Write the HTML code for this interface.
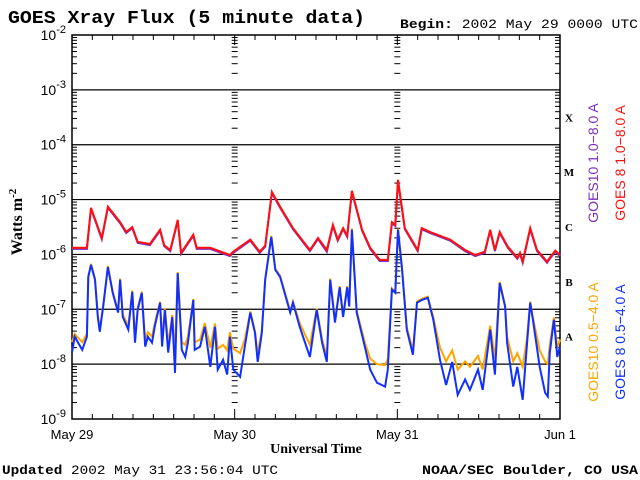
<!DOCTYPE html>
<html><head><meta charset="utf-8"><style>
body{margin:0;background:#fff;width:640px;height:480px;overflow:hidden}
svg{display:block}
</style></head><body>
<svg id="chart" width="640" height="480" viewBox="0 0 640 480" xmlns="http://www.w3.org/2000/svg">
<rect width="640" height="480" fill="#fff"/>
<text x="8" y="23" font-family="Liberation Mono, monospace" font-weight="bold" font-size="18" textLength="357" lengthAdjust="spacingAndGlyphs">GOES Xray Flux (5 minute data)</text>
<text x="400" y="28" font-family="Liberation Mono, monospace" font-size="13" textLength="238" lengthAdjust="spacingAndGlyphs"><tspan font-weight="bold">Begin:</tspan>  2002 May 29 0000 UTC</text>
<text transform="translate(22,222) rotate(-90)" text-anchor="middle" font-family="Liberation Serif, serif" font-weight="bold" font-size="16">Watts m<tspan dy="-6" font-size="11">-2</tspan></text>
<text x="316" y="453" text-anchor="middle" font-family="Liberation Serif, serif" font-weight="bold" font-size="14">Universal Time</text>
<text x="2" y="474" font-family="Liberation Mono, monospace" font-size="13" textLength="276" lengthAdjust="spacingAndGlyphs"><tspan font-weight="bold">Updated</tspan> 2002 May 31 23:56:04 UTC</text>
<text x="422" y="474" font-family="Liberation Mono, monospace" font-weight="bold" font-size="13" textLength="216" lengthAdjust="spacingAndGlyphs">NOAA/SEC Boulder, CO USA</text>
<g id="axes"></g>
<g id="series"></g>
<g id="labels"></g>
</svg>
<script>
const hours = [0,0.4,1.5,2.2,2.4,2.8,3.4,3.8,4.1,4.6,5.3,6.0,6.8,7.1,7.5,8.3,8.9,9.3,9.7,10.3,10.8,11.2,11.8,12.2,13.0,13.3,13.7,14.2,14.8,15.2,15.6,16.2,16.7,17.1,17.9,18.1,18.9,19.6,20.4,21.1,21.5,22.3,22.9,23.3,23.8,24.8,25.5,26.3,27.0,27.4,28.0,28.5,29.4,30.0,30.7,32.2,32.6,33.6,35.1,36.1,36.9,37.6,38.1,38.8,39.5,40.0,40.6,40.9,41.3,42.0,43.2,44.0,45.0,46.2,46.6,47.2,47.7,48.1,48.7,49.4,50.3,50.9,51.6,52.5,53.3,54.3,55.2,56.1,56.9,58.0,58.7,59.9,60.6,61.7,62.4,63.1,63.9,64.2,65.1,65.7,66.5,67.1,67.6,68.0,69.0,69.8,70.2,70.5,71.1,71.6,72];
const goes8Short = [-7.79,-7.50,-7.74,-7.50,-6.41,-6.19,-6.46,-7.14,-7.41,-6.95,-6.23,-6.70,-7.06,-6.46,-7.14,-7.37,-6.68,-7.61,-7.01,-6.70,-7.68,-7.50,-7.61,-7.32,-6.88,-7.68,-7.01,-7.79,-7.14,-8.16,-6.34,-7.74,-7.87,-7.61,-6.83,-7.74,-7.68,-7.32,-8.05,-7.32,-8.10,-7.92,-8.19,-7.50,-8.10,-8.23,-7.68,-7.06,-7.43,-7.96,-7.43,-6.46,-5.68,-6.28,-6.41,-7.06,-6.88,-7.32,-7.87,-7.01,-7.61,-7.96,-6.46,-7.24,-6.60,-7.14,-6.60,-6.95,-5.55,-7.06,-7.68,-8.10,-8.34,-8.41,-8.10,-6.64,-6.70,-5.55,-6.28,-7.37,-7.83,-6.88,-6.83,-6.79,-7.19,-7.92,-8.38,-7.96,-8.56,-8.28,-8.47,-8.10,-8.47,-7.37,-8.19,-6.52,-6.95,-7.61,-8.41,-8.05,-8.65,-7.68,-6.88,-7.19,-8.05,-8.52,-8.59,-7.79,-7.19,-7.87,-7.68];
const goes10Short = [-7.60,-7.45,-7.60,-7.45,-6.40,-6.17,-6.44,-7.10,-7.35,-6.93,-6.21,-6.68,-7.03,-6.44,-7.10,-7.30,-6.66,-7.50,-6.98,-6.68,-7.55,-7.42,-7.50,-7.26,-6.86,-7.55,-6.98,-7.62,-7.10,-7.80,-6.32,-7.60,-7.65,-7.50,-6.81,-7.60,-7.55,-7.25,-7.70,-7.26,-7.72,-7.65,-7.75,-7.42,-7.72,-7.80,-7.55,-7.04,-7.40,-7.80,-7.40,-6.44,-5.66,-6.26,-6.39,-7.03,-6.86,-7.25,-7.65,-6.99,-7.55,-7.85,-6.44,-7.20,-6.58,-7.10,-6.58,-6.93,-5.53,-7.03,-7.60,-7.90,-8.00,-8.02,-7.90,-6.62,-6.68,-5.53,-6.26,-7.33,-7.75,-6.86,-6.81,-6.77,-7.15,-7.70,-7.95,-7.75,-8.10,-7.95,-8.05,-7.85,-8.10,-7.30,-7.90,-6.50,-6.93,-7.50,-7.95,-7.80,-8.05,-7.55,-6.86,-7.15,-7.75,-7.95,-8.00,-7.65,-7.15,-7.70,-7.55];
const longHours = [0,2.2,2.8,4.4,5.3,7.1,8.0,8.9,9.7,11.5,13.0,13.6,14.5,15.6,16.1,17.9,18.4,20.4,23.3,23.8,26.3,27.7,28.5,29.5,30.7,32.6,35.1,36.3,37.6,38.5,39.2,40.0,40.6,41.3,42.8,44.0,45.4,46.6,47.2,47.7,48.1,49.1,51.0,51.6,52.8,55.8,58.0,59.5,60.9,61.7,62.4,63.1,64.3,65.7,66.1,66.5,67.6,68.6,70.1,70.5,71.3,72];
const goes8Long = [-5.88,-5.88,-5.15,-5.70,-5.13,-5.41,-5.59,-5.50,-5.77,-5.81,-5.55,-5.83,-5.92,-5.37,-5.97,-5.64,-5.88,-5.88,-6.01,-5.95,-5.73,-5.95,-5.84,-4.86,-5.13,-5.52,-5.92,-5.70,-5.92,-5.46,-5.73,-5.52,-5.66,-4.84,-5.55,-5.88,-6.10,-6.10,-5.41,-5.46,-4.64,-5.52,-5.92,-5.52,-5.59,-5.73,-5.92,-6.01,-5.95,-5.55,-5.92,-5.59,-5.86,-6.06,-5.97,-6.13,-5.52,-5.92,-6.13,-6.06,-5.93,-6.01];
const goes10Long = [-5.90,-5.90,-5.17,-5.72,-5.15,-5.43,-5.61,-5.52,-5.79,-5.83,-5.57,-5.85,-5.94,-5.39,-5.99,-5.66,-5.90,-5.90,-6.03,-5.97,-5.75,-5.97,-5.86,-4.88,-5.15,-5.54,-5.94,-5.72,-5.95,-5.48,-5.75,-5.54,-5.68,-4.86,-5.57,-5.90,-6.12,-6.12,-5.43,-5.48,-4.66,-5.54,-5.94,-5.54,-5.61,-5.75,-5.94,-6.03,-5.97,-5.57,-5.94,-5.61,-5.88,-6.08,-5.99,-6.15,-5.54,-5.94,-6.15,-6.08,-5.95,-6.03];
const decadeExps = [-2,-3,-4,-5,-6,-7,-8,-9];
const dayLabels = ["May 29","May 30","May 31","Jun 1"];
const classLetters = ["X","M","C","B","A"];

const NS = "http://www.w3.org/2000/svg";
const X0 = 72, X1 = 560, Y0 = 35, Y1 = 419;
const xs = h => X0 + (h / 72) * (X1 - X0);
const ys = l => Y0 + (-2 - l) / 7 * (Y1 - Y0);
function mk(tag, attrs, parent) { const e = document.createElementNS(NS, tag); for (const k in attrs) e.setAttribute(k, attrs[k]); parent.appendChild(e); return e; }
const axes = document.getElementById('axes'), series = document.getElementById('series'), labels = document.getElementById('labels');

const frame = mk('rect', {x: X0, y: Y0, width: X1 - X0, height: Y1 - Y0, fill: 'none', stroke: '#000', 'stroke-width': 1.5}, axes);



decadeExps.forEach((e, i) => {
  const y = ys(e);
  if (e < -2 && e > -9) {
    const g = mk('line', {x1: X0, x2: X1, y1: y, y2: y, stroke: '#000', 'stroke-width': 1.2}, axes);
    
    
  }
  const t = mk('text', {x: 66, y: y + 5, 'text-anchor': 'end', 'font-family': 'Liberation Sans, sans-serif', 'font-size': 14}, labels);
  
  
  t.innerHTML = '10<tspan dy="-7" font-size="11">' + e + '</tspan>';
  if (e > -9) {
    for (let m = 2; m <= 9; m++) {
      const yy = ys(e - 1 + Math.log10(m));
      [[X0, X0 + 5], [X1 - 5, X1], [xs(24) - 3, xs(24) + 3], [xs(48) - 3, xs(48) + 3]].forEach(p => {
        mk('line', {x1: p[0], x2: p[1], y1: yy, y2: yy, stroke: '#000', 'stroke-width': 1}, axes);
      });
    }
  }
});
for (let h = 0; h <= 72; h += 3) {
  const x = xs(h), len = h % 24 === 0 ? 10 : 5;
  mk('line', {x1: x, x2: x, y1: Y0, y2: Y0 + len, stroke: '#000', 'stroke-width': 1}, axes);
  mk('line', {x1: x, x2: x, y1: Y1, y2: Y1 - len, stroke: '#000', 'stroke-width': 1}, axes);
}
dayLabels.forEach((d, i) => {
  const t = mk('text', {x: xs(i * 24), y: 439, 'text-anchor': 'middle', 'font-family': 'Liberation Sans, sans-serif', 'font-size': 13}, labels);
  
  
  t.textContent = d;
});
classLetters.forEach((c, i) => {
  const t = mk('text', {x: 569, y: ys(-3.5 - i) + 4, 'text-anchor': 'middle', 'font-family': 'Liberation Serif, serif', 'font-weight': 'bold', 'font-size': 11}, labels);
  
  
  t.textContent = c;
});
function line(hs, vals, color, name) {
  const d = hs.map((h, i) => (i ? 'L' : 'M') + xs(h).toFixed(1) + ',' + ys(vals[i]).toFixed(1)).join('');
  const p = mk('path', {d: d, fill: 'none', stroke: color, 'stroke-width': 2, 'stroke-linejoin': 'miter'}, series);
  
  
}
line(longHours, goes10Long, '#7b2fbf', 'goes10-long-line');
line(longHours, goes8Long, '#ff1010', 'goes8-long-line');
line(hours, goes10Short, '#ffa500', 'goes10-short-line');
line(hours, goes8Short, '#1030ff', 'goes8-short-line');

[[593, 163, '#7b2fbf', 'GOES10 1.0\u22128.0 A', 'legend-goes10-long'],
 [620, 163, '#ff1010', 'GOES 8 1.0\u22128.0 A', 'legend-goes8-long'],
 [593, 342, '#ffa500', 'GOES10 0.5\u22124.0 A', 'legend-goes10-short'],
 [620, 342, '#1030ff', 'GOES 8 0.5\u22124.0 A', 'legend-goes8-short']].forEach(l => {
  const t = mk('text', {transform: 'translate(' + (l[0] + 5) + ',' + l[1] + ') rotate(-90)', 'text-anchor': 'middle', fill: l[2], 'font-family': 'Liberation Sans, sans-serif', 'font-size': 14}, labels);
  
  
  t.textContent = l[3];
});
</script>
</body></html>
